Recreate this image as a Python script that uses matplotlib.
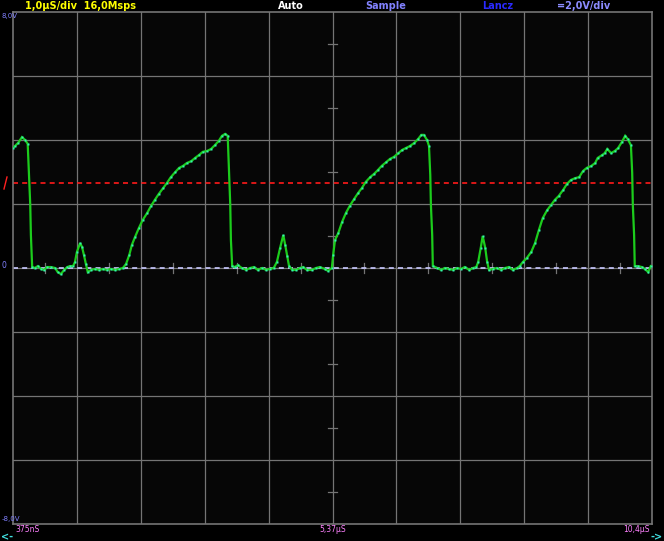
import matplotlib
matplotlib.use("Agg")
import matplotlib.pyplot as plt
import numpy as np

# ---- data (time in µs from left edge of screen, voltage in V) ----
t_us = [0.00, 0.03, 0.08, 0.14, 0.19, 0.23, 0.25, 0.27, 0.28, 0.30,
        0.34, 0.39, 0.44, 0.49, 0.53, 0.59, 0.66, 0.70, 0.75, 0.80,
        0.85, 0.89, 0.94, 0.97, 1.00, 1.05, 1.08, 1.11, 1.14, 1.17,
        1.22, 1.28, 1.35, 1.41, 1.47, 1.53, 1.60, 1.66, 1.72, 1.77,
        1.82, 1.86, 1.91, 1.97, 2.03, 2.10, 2.16, 2.22, 2.28, 2.35,
        2.41, 2.47, 2.54, 2.60, 2.66, 2.72, 2.79, 2.85, 2.91, 2.97,
        3.04, 3.10, 3.16, 3.22, 3.27, 3.32, 3.36, 3.38, 3.40, 3.41,
        3.43,
        3.47, 3.52, 3.58, 3.65, 3.71, 3.77, 3.83, 3.90, 3.96, 4.02,
        4.08, 4.13, 4.18, 4.23, 4.26, 4.29, 4.32, 4.37, 4.43, 4.49,
        4.54, 4.60, 4.68, 4.74, 4.80, 4.88, 4.93, 4.99, 5.01, 5.04,
        5.09, 5.15, 5.21, 5.27, 5.34, 5.40, 5.46, 5.52, 5.59, 5.65,
        5.71, 5.77, 5.84, 5.90, 5.96, 6.03, 6.09, 6.15, 6.21, 6.28,
        6.34, 6.39, 6.43, 6.48, 6.51, 6.53, 6.54, 6.56, 6.57,
        6.64, 6.70, 6.76, 6.82, 6.89, 6.95, 7.01, 7.07, 7.14, 7.20,
        7.25, 7.28, 7.32, 7.35, 7.39, 7.42, 7.45, 7.51, 7.57, 7.64,
        7.70, 7.76, 7.82, 7.89, 7.93, 7.98, 8.04, 8.11, 8.17, 8.23,
        8.29, 8.36, 8.42, 8.48, 8.54, 8.61, 8.67, 8.73, 8.80, 8.86,
        8.92, 8.98, 9.05, 9.11, 9.15, 9.22, 9.26, 9.30, 9.36, 9.42,
        9.47, 9.53, 9.58, 9.62, 9.67, 9.69, 9.70, 9.72, 9.73, 9.78,
        9.84, 9.89, 9.94, 9.98]
volts = [3.75, 3.81, 3.91, 4.09, 4.00, 3.88, 2.91, 1.97, 1.03, 0.03,
         0.00, 0.06, -0.03, -0.06, 0.03, 0.03, 0.00, -0.13, -0.19, -0.06,
         0.03, 0.06, 0.06, 0.19, 0.50, 0.78, 0.66, 0.41, 0.13, -0.13,
         -0.06, -0.03, -0.06, -0.03, -0.06, -0.03, -0.06, -0.03, 0.00, 0.13,
         0.41, 0.72, 0.97, 1.25, 1.50, 1.72, 1.94, 2.13, 2.31, 2.50,
         2.66, 2.84, 3.00, 3.13, 3.19, 3.28, 3.34, 3.44, 3.53, 3.63,
         3.66, 3.72, 3.84, 3.97, 4.13, 4.19, 4.13, 3.06, 1.97, 0.88,
         0.06,
         0.03, 0.09, 0.00, -0.06, 0.00, 0.03, -0.06, 0.00, -0.06, -0.03,
         0.00, 0.19, 0.63, 1.03, 0.72, 0.38, 0.06, -0.06, -0.06, 0.00,
         0.03, -0.06, -0.06, 0.00, 0.03, -0.03, -0.09, 0.00, 0.41, 0.88,
         1.09, 1.44, 1.72, 1.94, 2.16, 2.34, 2.50, 2.69, 2.84, 2.94,
         3.06, 3.19, 3.31, 3.41, 3.47, 3.59, 3.69, 3.75, 3.81, 3.91,
         4.03, 4.16, 4.16, 4.00, 3.81, 2.91, 1.97, 1.03, 0.06,
         0.00, -0.06, 0.00, -0.03, -0.06, 0.00, -0.03, 0.03, -0.06, 0.00,
         0.03, 0.19, 0.63, 1.00, 0.63, 0.19, -0.06, -0.03, 0.00, -0.06,
         0.00, 0.03, -0.06, 0.00, 0.06, 0.19, 0.31, 0.50, 0.78, 1.19,
         1.56, 1.81, 1.97, 2.13, 2.25, 2.44, 2.63, 2.75, 2.81, 2.84,
         3.03, 3.13, 3.19, 3.28, 3.44, 3.53, 3.59, 3.72, 3.59, 3.66,
         3.75, 3.94, 4.13, 4.03, 3.84, 2.97, 1.97, 1.03, 0.06, 0.06,
         0.03, -0.03, -0.13, 0.06]

trigger_level = 2.66
x_divs = 10
y_min, y_max = -8.0, 8.0

top_labels = ["1,0µS/div  16,0Msps", "Auto", "Sample", "Lancz", "=2,0V/div"]
bottom_labels = ["375nS", "5,37µS", "10,4µS"]

# ---- figure ----
W, H = 664, 541
fig = plt.figure(figsize=(W / 100, H / 100), dpi=100, facecolor="black")
ax = fig.add_axes([13 / W, 1 - 524 / H, 639 / W, 512 / H])
ax.set_facecolor("#060606")
ax.set_xlim(0, x_divs)
ax.set_ylim(y_min, y_max)
ax.set_xticks([])
ax.set_yticks([])
grid_c = "#747474"
for s in ax.spines.values():
    s.set_color(grid_c)
    s.set_linewidth(1.2)
for xv in range(1, x_divs):
    ax.axvline(xv, color=grid_c, lw=0.9, zorder=1)
for yv in np.arange(y_min + 2, y_max, 2):
    ax.axhline(yv, color=grid_c, lw=0.9, zorder=1)
# centre minor ticks
for yv in np.arange(y_min + 1, y_max, 2):
    ax.plot([x_divs / 2 - 0.075, x_divs / 2 + 0.075], [yv, yv], color=grid_c, lw=0.9, zorder=1)
for xv in np.arange(0.5, x_divs, 1):
    ax.plot([xv, xv], [-0.16, 0.16], color=grid_c, lw=0.9, zorder=1)

ax.axhline(trigger_level, color="#ff1a1a", lw=1.2, ls=(0, (3, 2.5)), zorder=2)
ax.axhline(0, color="#c8c8ff", lw=1.2, ls=(0, (3, 2.5)), zorder=2)

ax.plot(t_us, volts, color="#1ccc1c", lw=1.6, zorder=3, solid_joinstyle="miter")
tv = np.array(t_us)
vv = np.array(volts)
dv = np.abs(np.diff(vv))
keep = np.ones(len(vv), bool)
for i in range(1, len(vv) - 1):
    if dv[i - 1] > 0.8 and dv[i] > 0.8:
        keep[i] = False
ax.plot(tv[keep], vv[keep], ls="none", marker="s", ms=1.8, mec="none",
        mfc="#34f0b0", zorder=4)


def ftext(x, y, s, color, size=7, weight="bold", ha="left", va="center"):
    fig.text(x / W, 1 - y / H, s, color=color, fontsize=size, fontweight=weight,
             ha=ha, va=va, family="DejaVu Sans")


ftext(25, 6, top_labels[0], "#ffff00")
ftext(278, 6, top_labels[1], "#ffffff")
ftext(365, 6, top_labels[2], "#8282ff")
ftext(482, 6, top_labels[3], "#2a2aff")
ftext(557, 6, top_labels[4], "#8c8cff")

ftext(2, 16, "8,0V", "#8080ff", size=5, weight="normal")
ftext(2, 519, "-8,0V", "#8080ff", size=5, weight="normal")
ftext(2, 265, "0", "#8080ff", size=5.5, weight="normal")
fig.add_artist(plt.Line2D([4 / W, 7 / W], [1 - 189 / H, 1 - 177 / H], color="#ff2020", lw=1))

ftext(15, 530, bottom_labels[0], "#ff80ff", size=5.5, weight="normal")
ftext(333, 530, bottom_labels[1], "#ff80ff", size=5.5, weight="normal", ha="center")
ftext(650, 530, bottom_labels[2], "#ff80ff", size=5.5, weight="normal", ha="right")
ftext(1, 537, "<-", "#40e0e0", size=7, weight="bold")
ftext(663, 537, "->", "#40e0e0", size=7, weight="bold", ha="right")

fig.savefig("out.png", dpi=100, facecolor="black")
